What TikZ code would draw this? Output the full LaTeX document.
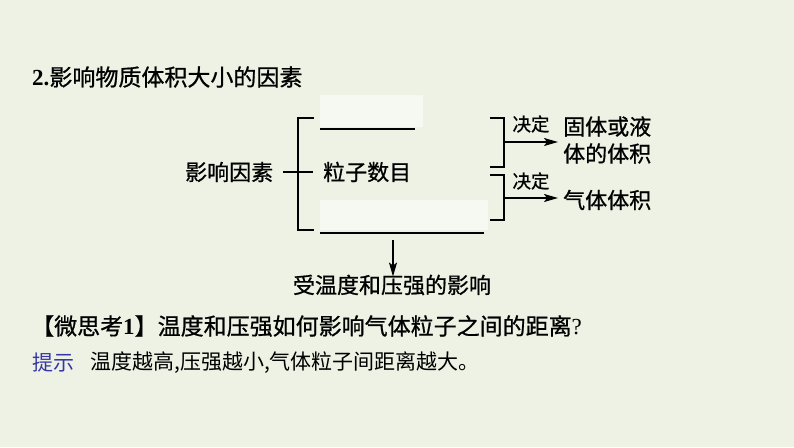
\documentclass[tikz,border=0pt]{standalone}
\usepackage{fontspec}
\setmainfont{Liberation Serif}
\newfontfamily\cjk{Noto Sans CJK SC}[FakeBold=0.8]
\newfontfamily\cjklight{Noto Sans CJK SC}
\usetikzlibrary{arrows.meta}
\definecolor{bg}{RGB}{238,242,228}
\definecolor{boxfill}{RGB}{246,249,242}
\definecolor{hintblue}{RGB}{55,55,165}
\begin{document}
\begin{tikzpicture}[x=1pt,y=-1pt,
  txt/.style={inner sep=0pt, anchor=west, font=\cjk\fontsize{22pt}{27pt}\selectfont},
  big/.style={font=\cjk\fontsize{23pt}{27pt}\selectfont},
  small/.style={font=\cjklight\fontsize{21pt}{25pt}\selectfont},
  tiny/.style={inner sep=0pt, font=\cjk\fontsize{18.5pt}{22pt}\selectfont},
  ln/.style={line width=1.6pt},
  arr/.style={line width=1.6pt, -{Stealth[length=14pt,width=8pt,inset=3pt]}},
  blank/.style={fill=boxfill, draw=none, inner sep=0pt, anchor=north west},
]
\fill[bg] (0,0) rectangle (794,447);
\useasboundingbox (0,0) rectangle (794,447);

% title
\node[txt, big] (title) at (32,77) {{\rmfamily\bfseries 2.}影响物质体积大小的因素};

% left part
\node[txt] (factor) at (185,172) {影响因素};
\node[txt] (num) at (323,172) {粒子数目};
\draw[ln] ([xshift=10]factor.east) -- ([xshift=-10]num.west);

% big bracket
\coordinate (bt) at (314,118);
\coordinate (bb) at (314,230);
\draw[ln] (bt) -- (298,118) -- (298,230) -- (bb);

% blanks
\node[blank, minimum width=103, minimum height=32] (blank1) at (320,95) {};
\node[blank, minimum width=168, minimum height=30] (blank2) at (320,200) {};
\coordinate (u1a) at (320,129);
\coordinate (u1b) at (415,129);
\coordinate (u2a) at (320,233);
\coordinate (u2b) at (484,233);
\draw[ln] (u1a) -- (u1b);
\draw[ln] (u2a) -- (u2b);

% down arrow
\node[txt, anchor=center] (temp) at (392,285) {受温度和压强的影响};
\coordinate (dstart) at (393,240);
\draw[arr] (dstart) -- ([yshift=-2]temp.north -| dstart);

% right brackets
\coordinate (r1t) at (490,118);
\coordinate (r1b) at (490,167);
\draw[ln] (r1t) -- (504,118) -- (504,167) -- (r1b);
\coordinate (r2t) at (490,175);
\coordinate (r2b) at (490,220);
\draw[ln] (r2t) -- (504,175) -- (504,220) -- (r2b);

\node[txt, align=left] (solid) at (563,140) {固体或液\\体的体积};
\node[txt] (gas) at (563,200) {气体体积};

\coordinate (a1s) at (503,142);
\coordinate (a1e) at (558,142);
\coordinate (a2s) at (503,198);
\coordinate (a2e) at (558,198);
\draw[arr] (a1s) -- (a1e);
\draw[arr] (a2s) -- (a2e);
\node[tiny] (dec1) at (531,124) {决定};
\node[tiny] (dec2) at (531,181) {决定};

% question
\node[txt, big] (q) at (31,326) {【微思考{\rmfamily\bfseries 1}】温度和压强如何影响气体粒子之间的距离{\rmfamily ?}};
\node[txt, small, text=hintblue] (hint) at (32,363) {提示};
\node[txt, small] (ans) at (90,363) {温度越高,压强越小,气体粒子间距离越大。};
\end{tikzpicture}
\end{document}
